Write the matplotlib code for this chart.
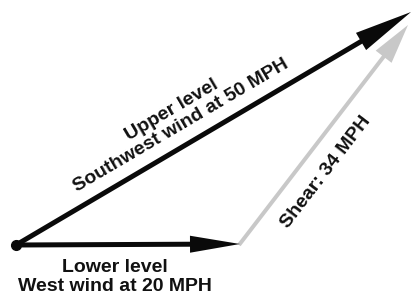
import matplotlib
matplotlib.use("Agg")
import matplotlib.pyplot as plt

# Vector diagram points (drawing units, y grows downward)
origin = (16, 245)
lower_end = (240, 244)
upper_end = (411, 12)
shear_start = (239, 245)
shear_end = (408, 25)

labels = {
    "lower": "Lower level\nWest wind at 20 MPH",
    "upper": "Upper level\nSouthwest wind at 50 MPH",
    "shear": "Shear: 34 MPH",
}

fig = plt.figure(figsize=(4.11, 2.99), dpi=100)
ax = fig.add_axes([0, 0, 1, 1])
ax.set_xlim(0, 411)
ax.set_ylim(299, 0)
ax.axis("off")

font = dict(family=["Liberation Sans", "DejaVu Sans"], fontweight="bold", fontsize=14, color="#111111")

# shear (grey)
ax.arrow(shear_start[0], shear_start[1], shear_end[0] - shear_start[0], shear_end[1] - shear_start[1],
         width=4, head_width=20, head_length=40, length_includes_head=True,
         color="#c8c8c8", ec="none", zorder=1)
# upper
ax.arrow(origin[0], origin[1], upper_end[0] - origin[0], upper_end[1] - origin[1],
         width=5, head_width=20, head_length=58, length_includes_head=True,
         color="#0a0a0a", ec="none", zorder=2)
# lower
ax.arrow(origin[0], origin[1], lower_end[0] - origin[0], lower_end[1] - origin[1],
         width=5, head_width=17, head_length=50, length_includes_head=True,
         color="#0a0a0a", ec="none", zorder=2)
ax.plot([origin[0]], [origin[1]], "o", color="#0a0a0a", markersize=7, zorder=3)

ax.text(115, 277, labels["lower"], ha="center", va="center", linespacing=1.1, **font)
ax.text(176, 118, labels["upper"], ha="center", va="center", rotation=30.5,
        rotation_mode="anchor", linespacing=1.1, **font)
ax.text(326, 172, labels["shear"], ha="center", va="center", rotation=52.5,
        rotation_mode="anchor", **font)

fig.savefig("out.png", dpi=100)
